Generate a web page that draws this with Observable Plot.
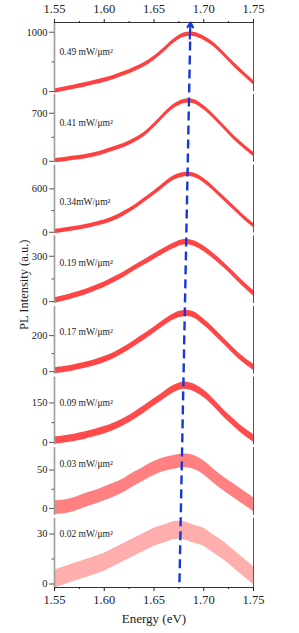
<!DOCTYPE html>
<html><head><meta charset="utf-8">
<script src="https://cdn.jsdelivr.net/npm/d3@7"></script>
<script src="https://cdn.jsdelivr.net/npm/@observablehq/plot@0.6"></script>
<style>body{margin:0;background:#fff}</style>
</head><body><div id="chart"></div>
<script>
// Energy grid (eV)
const energy = [1.55,1.56,1.57,1.58,1.59,1.60,1.61,1.62,1.63,1.64,1.65,1.66,1.67,1.68,1.69,1.70,1.71,1.72,1.73,1.74,1.75];
// Power density labels, top panel first
const powers = ["0.49 mW/μm²","0.41 mW/μm²","0.34mW/μm²","0.19 mW/μm²","0.17 mW/μm²","0.09 mW/μm²","0.03 mW/μm²","0.02 mW/μm²"];
// PL intensity (a.u.)
const p049 = [5,40,75,110,150,190,240,300,370,450,560,700,850,950,965,900,790,630,460,300,150];
const p041 = [10,25,45,65,95,135,180,230,300,390,520,670,800,870,870,780,650,500,350,220,100];
const p034 = [10,30,50,75,105,140,190,260,340,440,540,650,750,795,790,715,600,470,340,210,95];
const p019 = [7,22,40,60,85,112,145,180,220,258,297,335,370,393,385,350,300,243,180,115,55];
const p017 = [5,12,22,34,48,67,90,120,155,192,230,270,305,322,315,275,225,170,115,65,25];
const p009 = [6,11,17,25,35,46,60,78,100,125,152,178,203,216,208,185,150,110,75,42,15];
const p003 = [1,2,5,10,14,19,24,30,38,45,52,57,60,62,60,53,42,32,23,14,5];
const p002 = [3,5,7,9,11,13,16,19,22,25,28,30,32,32,30,28,24,20,15,10,5];
const series = [p049,p041,p034,p019,p017,p009,p003,p002];
// scatter spread of each measurement (a.u.)
const spread = [36,31,30,18,17,14,9,5.4];
// y-axis ticks per panel
const yTickMax = [1000,700,600,300,200,150,50,30];
const yDomains = [[-27,1164],[-36,993],[-29,947],[-22.5,445],[-22,370],[-15,254],[-11,81],[-2.1,40.3]];
// label heights (panel units)
const labelValue = [663,560,415,256,218,150,58,30];
// x ticks
const xTicks = [1.55,1.60,1.65,1.70,1.75];
const xMinor = [1.575,1.625,1.675,1.725];
// peak-shift arrow: bottom (panel 8) to top (panel 1)
const arrowX = [1.6756,1.6867];
const arrowValue = [1, 1164];

const N = series.length;
const toStack = (k, v) => { const [lo, hi] = yDomains[k]; return (N - 1 - k) + (v - lo) / (hi - lo); };

const red = "#ff2b2b";
const opac = [0.9,0.9,0.9,0.88,0.88,0.85,0.6,0.38];
const font = "Liberation Serif";

const marks = [];
series.forEach((vals, k) => {
  const rows = vals.map((v, i) => ({x: energy[i], y1: toStack(k, v - spread[k]), y2: toStack(k, v + spread[k])}));
  marks.push(Plot.areaY(rows, {x: "x", y1: "y1", y2: "y2", fill: red, fillOpacity: opac[k], curve: "catmull-rom"}));
});

// frame segments with small gaps between panels
const gap = 0.02;
const segs = d3.range(N).map(k => ({y1: (N - 1 - k) + (k === N - 1 ? 0 : gap), y2: (N - k) - (k === 0 ? 0 : gap)}));
marks.push(Plot.ruleX(segs, {x: () => 1.55, y1: "y1", y2: "y2", stroke: "#9c9c9c", strokeWidth: 1.6}));
marks.push(Plot.ruleX(segs, {x: () => 1.75, y1: "y1", y2: "y2", stroke: "#555", strokeWidth: 1}));
marks.push(Plot.ruleY([0, N], {stroke: "#333", strokeWidth: 1}));

// y ticks
const majorPos = [], labelByPos = new Map(), minorPos = [];
yTickMax.forEach((m, k) => {
  const p0 = toStack(k, 0), p1 = toStack(k, m);
  majorPos.push(p0, p1);
  labelByPos.set(p0, "0"); labelByPos.set(p1, String(m));
  minorPos.push(toStack(k, m / 2));
});
marks.push(Plot.axisY({ticks: majorPos, tickFormat: d => labelByPos.get(d), tickSize: 5, tickPadding: 2, fontSize: 10.5, label: null, stroke: "#555"}));
marks.push(Plot.axisY({ticks: minorPos, tickFormat: () => "", tickSize: 2.5, label: null, stroke: "#555"}));

// x axes
for (const anchor of ["top", "bottom"]) {
  marks.push(Plot.axisX({anchor, ticks: xTicks, tickFormat: d3.format(".2f"), tickSize: 4, tickPadding: anchor === "top" ? 6 : 4, fontSize: 12.5, label: null}));
  marks.push(Plot.axisX({anchor, ticks: xMinor, tickFormat: () => "", tickSize: 2, label: null}));
}

// panel labels
marks.push(Plot.text(powers, {x: () => 1.55, y: (d, i) => toStack(i, labelValue[i]), text: d => d, textAnchor: "start", dx: 5, fontSize: 9.5, fill: "#222"}));

// arrow
const ay0 = toStack(N - 1, arrowValue[0]), ay1 = toStack(0, arrowValue[1]);
const f = 0.975;
const hx = arrowX[0] + f * (arrowX[1] - arrowX[0]), hy = ay0 + f * (ay1 - ay0);
marks.push(Plot.link([0], {x1: () => arrowX[0], y1: () => ay0, x2: () => hx, y2: () => hy, stroke: "#1538d6", strokeWidth: 2.4, strokeDasharray: "9,5"}));
marks.push(Plot.arrow([0], {x1: () => hx - 0.0005, y1: () => hy - 0.03, x2: () => arrowX[1], y2: () => ay1, stroke: "#1538d6", strokeWidth: 2.2, headLength: 9}));

// axis titles
marks.push(Plot.text(["Energy (eV)"], {frameAnchor: "bottom", dy: 35, fontSize: 13, fill: "#222"}));
marks.push(Plot.text(["PL Intensity (a.u.)"], {frameAnchor: "left", dx: -31, dy: 25, rotate: -90, fontSize: 12.5, fill: "#222"}));

const chart = Plot.plot({
  width: 299, height: 633,
  marginTop: 22, marginBottom: 46, marginLeft: 54, marginRight: 46,
  x: {domain: [1.55, 1.75]},
  y: {domain: [0, N]},
  style: {fontFamily: font, color: "#222", background: "#fff"},
  marks
});
document.getElementById("chart").appendChild(chart);
</script>
</body></html>
